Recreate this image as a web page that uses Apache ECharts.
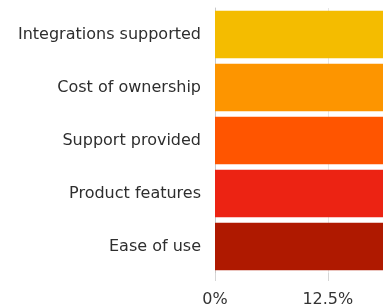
<!DOCTYPE html>
<html>
<head>
<meta charset="utf-8">
<script src="https://cdn.jsdelivr.net/npm/echarts@6/dist/echarts.min.js"></script>
<style>
  html, body { margin: 0; padding: 0; background: #fff; overflow: hidden; }
  /* the reference is cropped on the right, so the chart is wider than the window */
  #chart { width: 687px; height: 308px; }
</style>
</head>
<body>
<div id="chart"></div>
<script>
// bottom to top, as the category axis draws them
var categories = ['Ease of use', 'Product features', 'Support provided', 'Cost of ownership', 'Integrations supported'];
var shares = [28, 31, 33, 36, 42];
var barColors = ['#af1900', '#ec2313', '#ff5500', '#fd9500', '#f4bc00'];
var tickStep = 12.5;

var myChart = echarts.init(document.getElementById('chart'));

var option = {
  backgroundColor: '#fff',
  animation: false,
  grid: { left: 215, top: 8, right: 0, height: 266 },
  xAxis: {
    type: 'value',
    min: 0,
    max: 50,
    interval: tickStep,
    axisLine: { show: true, lineStyle: { color: '#fff', width: 0 } },
    axisTick: { show: true, length: 8, lineStyle: { color: '#d6d6d6' } },
    splitLine: { show: true, lineStyle: { color: '#e6e6e6' } },
    axisLabel: {
      formatter: '{value}%',
      margin: 19,
      color: '#333',
      fontSize: 16,
      fontFamily: 'DejaVu Sans'
    }
  },
  yAxis: {
    type: 'category',
    data: categories,
    axisLine: { show: true, lineStyle: { color: '#c8c8c8' } },
    axisTick: { show: false },
    axisLabel: {
      margin: 14,
      color: '#2e2e2e',
      fontSize: 16,
      fontFamily: 'DejaVu Sans'
    }
  },
  series: [{
    type: 'bar',
    barCategoryGap: '10%',
    data: shares.map(function (v, i) {
      return { value: v, itemStyle: { color: barColors[i] } };
    })
  }]
};
myChart.setOption(option);
</script>
</body>
</html>
